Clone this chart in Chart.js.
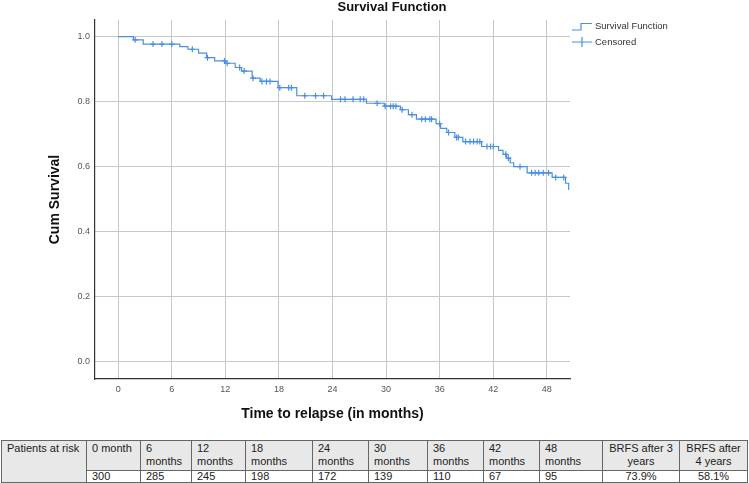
<!DOCTYPE html>
<html>
<head>
<meta charset="utf-8">
<title>Survival Function</title>
<script src="https://cdn.jsdelivr.net/npm/chart.js"></script>
<style>
  body { margin: 0; background: #fff; font-family: "Liberation Sans", Arial, sans-serif; }
  #wrap { position: relative; width: 749px; height: 483px; overflow: hidden; }
  #box { position: absolute; left: 0; top: 0; width: 749px; height: 425px; }
  table { position: absolute; left: 1px; top: 440px; border-collapse: collapse; table-layout: fixed; width: 746px; font-size: 11px; color: #222; }
  td { border: 1px solid #666; padding: 0 0 0 5px; line-height: 12.5px; vertical-align: top; white-space: nowrap; overflow: hidden; }
  tr.head td { background: #e8e8e8; height: 28px; padding-top: 1px; }
  tr.vals td { height: 11px; line-height: 11px; }
  td.first { background: #e8e8e8; }
  td.mid { text-align: center; padding-left: 0; }
</style>
</head>
<body>
<div id="wrap">
  <div id="box"><canvas id="kmChart"></canvas></div>
  <table id="riskTable"></table>
</div>
<script>
// Kaplan-Meier steps (time in months, cum survival)
const stepTimes = [0, 1.7, 2.8, 6.9, 7.8, 9.0, 9.9, 10.8, 12.0, 13.1, 13.8, 15.0, 15.9, 17.9, 20.0, 23.9, 27.8, 29.8, 31.6, 32.5,
  33.4, 35.6, 36.1, 36.8, 37.7, 38.6, 40.7, 42.6, 43.1, 43.5, 43.9, 44.3, 45.8, 48.6, 50.1, 50.45];
const stepSurv = [1.0, 0.99, 0.977, 0.969, 0.961, 0.949, 0.935, 0.925, 0.918, 0.905, 0.894, 0.872, 0.862, 0.843, 0.818, 0.807, 0.795, 0.786, 0.775, 0.760,
  0.746, 0.732, 0.718, 0.705, 0.690, 0.677, 0.662, 0.650, 0.638, 0.626, 0.612, 0.600, 0.581, 0.567, 0.549, 0.528];

// censored observations (months)
const censorTimes = [1.9, 3.9, 4.9, 6.0, 8.3, 10.0, 11.9, 12.2, 13.6, 14.1, 15.1, 16.1, 16.6, 17.0, 18.1, 19.1, 19.4, 20.9, 22.1, 23.0,
  24.9, 25.4, 26.3, 27.1, 27.5, 29.0, 29.9, 30.5, 30.8, 31.1, 31.8, 32.9, 34.0, 34.4, 34.9, 35.1, 36.0, 37.0, 37.9, 38.1,
  38.9, 39.4, 39.8, 40.2, 40.5, 41.3, 41.7, 42.0, 43.4, 43.7, 45.0, 46.3, 46.7, 47.1, 47.6, 48.2, 49.0, 49.9];

const xTicks = [0, 6, 12, 18, 24, 30, 36, 42, 48];
const yTicks = [0.0, 0.2, 0.4, 0.6, 0.8, 1.0];

// patients at risk table
const riskMonths = [0, 6, 12, 18, 24, 30, 36, 42, 48];
const atRisk = [300, 285, 245, 198, 172, 139, 110, 67, 95];
const brfsHeads = ['BRFS after 3<br>years', 'BRFS after<br>4 years'];
const brfsValues = ['73.9%', '58.1%'];

const lineColor = '#4a8fe4';
const fontFam = '"Liberation Sans", Arial, sans-serif';

function survAt(t) {
  let s = stepSurv[0];
  for (let i = 0; i < stepTimes.length; i++) {
    if (stepTimes[i] <= t) s = stepSurv[i];
  }
  return s;
}

const decor = {
  id: 'decor',
  afterDraw(chart) {
    const c = chart.ctx;
    const a = chart.chartArea;
    c.save();
    c.fillStyle = '#111';
    c.font = 'bold 13px ' + fontFam;
    c.textAlign = 'center';
    c.textBaseline = 'middle';
    c.fillText('Survival Function', a.left + 297, 7);

    // legend
    const lx = a.right + 2;
    c.strokeStyle = lineColor;
    c.lineWidth = 1.2;
    c.beginPath();
    c.moveTo(lx, 30); c.lineTo(lx + 9, 30); c.lineTo(lx + 9, 23.5); c.lineTo(lx + 20, 23.5);
    c.stroke();
    c.beginPath();
    c.moveTo(lx, 42); c.lineTo(lx + 20, 42);
    c.moveTo(lx + 10, 37); c.lineTo(lx + 10, 47);
    c.stroke();
    c.fillStyle = '#333';
    c.font = '9.5px ' + fontFam;
    c.textAlign = 'left';
    c.fillText('Survival Function', lx + 23, 26);
    c.fillText('Censored', lx + 23, 42);
    c.restore();
  }
};

new Chart(document.getElementById('kmChart'), {
  type: 'line',
  data: {
    datasets: [
      {
        label: 'Survival Function',
        data: stepTimes.map((t, i) => ({ x: t, y: stepSurv[i] })),
        stepped: true,
        borderColor: lineColor,
        borderWidth: 1.2,
        pointRadius: 0,
        fill: false
      },
      {
        label: 'Censored',
        data: censorTimes.map(t => ({ x: t, y: survAt(t) })),
        showLine: false,
        pointStyle: 'cross',
        pointRadius: 3,
        borderColor: lineColor,
        borderWidth: 1.2
      }
    ]
  },
  options: {
    responsive: true,
    maintainAspectRatio: false,
    animation: false,
    layout: { padding: { top: 20, right: 179, left: 0, bottom: 0 } },
    plugins: { legend: { display: false }, title: { display: false }, tooltip: { enabled: false } },
    scales: {
      x: {
        type: 'linear',
        min: -2.6,
        max: 50.6,
        afterBuildTicks: s => { s.ticks = xTicks.map(v => ({ value: v })); },
        afterFit: s => { s.height = 46; },
        grid: { color: '#c8c8c8', lineWidth: 1, drawTicks: false },
        border: { color: '#333', width: 1.2 },
        ticks: { padding: 5, color: '#555', font: { size: 9, family: fontFam } },
        title: { display: true, text: 'Time to relapse (in months)', color: '#111', padding: { top: 0, bottom: 2 }, font: { size: 14, weight: 'bold', family: fontFam } }
      },
      y: {
        min: -0.053,
        max: 1.051,
        afterBuildTicks: s => { s.ticks = yTicks.map(v => ({ value: v })); },
        afterFit: s => { s.width = 95; },
        grid: { color: '#c8c8c8', lineWidth: 1, drawTicks: false },
        border: { color: '#333', width: 1.2 },
        ticks: { padding: 5, color: '#555', font: { size: 9, family: fontFam }, callback: v => v.toFixed(1) },
        title: { display: true, text: 'Cum Survival', color: '#111', padding: { top: 47, bottom: 0 }, font: { size: 14, weight: 'bold', family: fontFam } }
      }
    }
  },
  plugins: [decor]
});

// table below the plot
const tbl = document.getElementById('riskTable');
const widths = [85, 54, 51, 54, 67, 56, 59, 56, 56, 63, 77, 68];
let html = '<colgroup>' + widths.map(w => '<col style="width:' + w + 'px">').join('') + '</colgroup>';
html += '<tr class="head"><td class="first" rowspan="2">Patients at risk</td>';
riskMonths.forEach(m => {
  html += '<td>' + (m === 0 ? '0 month' : m + '<br>months') + '</td>';
});
brfsHeads.forEach(h => { html += '<td class="mid">' + h + '</td>'; });
html += '</tr><tr class="vals">';
atRisk.forEach(n => { html += '<td>' + n + '</td>'; });
brfsValues.forEach(v => { html += '<td class="mid">' + v + '</td>'; });
html += '</tr>';
tbl.innerHTML = html;
</script>
</body>
</html>
